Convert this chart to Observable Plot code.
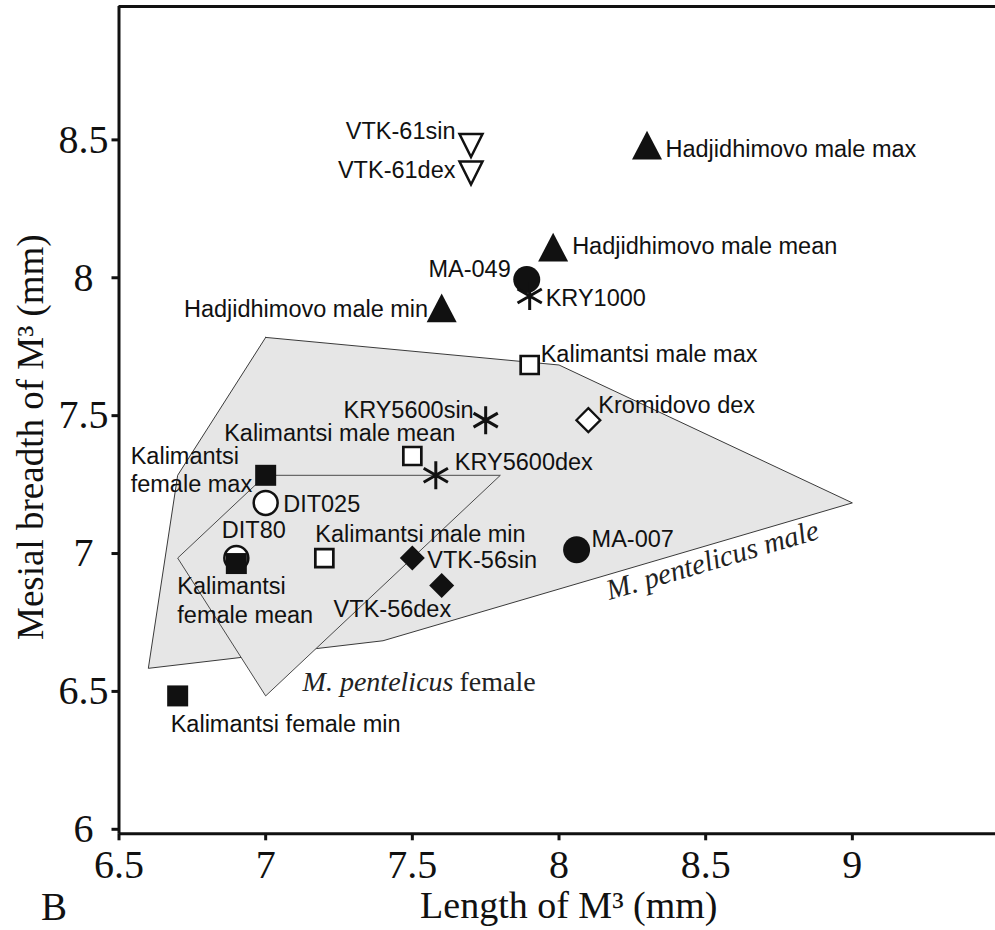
<!DOCTYPE html>
<html><head><meta charset="utf-8">
<script src="https://cdn.jsdelivr.net/npm/d3@7"></script>
<script src="https://cdn.jsdelivr.net/npm/@observablehq/plot@0.6"></script>
<style>html,body{margin:0;background:#fff;overflow:hidden}svg{display:block}</style>
</head><body><div id="chart"></div>
<script>
// ---------- data ----------
const specimens = [
  "VTK-61sin", "VTK-61dex",
  "Hadjidhimovo male max", "Hadjidhimovo male mean", "Hadjidhimovo male min",
  "MA-049", "KRY1000", "Kalimantsi male max", "Kromidovo dex", "KRY5600sin",
  "Kalimantsi male mean", "KRY5600dex", "Kalimantsi\nfemale max", "DIT025", "DIT80",
  "Kalimantsi\nfemale mean", "Kalimantsi male min", "VTK-56sin", "VTK-56dex", "MA-007",
  "Kalimantsi female min"
];
const lengthM3 = [7.70, 7.70, 8.30, 7.98, 7.60, 7.89, 7.90, 7.90, 8.10, 7.75,
                  7.50, 7.58, 7.00, 7.00, 6.90, 6.90, 7.20, 7.50, 7.60, 8.06, 6.70];
const breadthM3 = [8.51, 8.41, 8.48, 8.11, 7.89, 8.01, 7.95, 7.70, 7.50, 7.50,
                   7.37, 7.30, 7.30, 7.20, 7.00, 6.98, 7.00, 7.00, 6.90, 7.03, 6.50];
const markerKind = ["openTriangleDown", "openTriangleDown",
  "filledTriangle", "filledTriangle", "filledTriangle",
  "filledCircle", "asterisk", "openSquare", "openDiamond", "asterisk",
  "openSquare", "asterisk", "filledSquare", "openCircle", "openCircle",
  "filledSquare", "openSquare", "filledDiamond", "filledDiamond", "filledCircle",
  "filledSquare"];

const maleHullLength = [7.0, 8.0, 9.0, 7.4, 6.6, 6.7];
const maleHullBreadth = [7.8, 7.7, 7.2, 6.7, 6.6, 7.3];
const femaleHullLength = [7.0, 7.8, 7.0, 6.7];
const femaleHullBreadth = [7.3, 7.3, 6.5, 7.0];

const hullLabelText = ["M. pentelicus male", "M. pentelicus", "female"];
const hullLabelLength = [8.523, 7.647, 7.647];
const hullLabelBreadth = [6.992, 6.552, 6.552];

const xTicks = [6.5, 7, 7.5, 8, 8.5, 9];
const yTicks = [6, 6.5, 7, 7.5, 8, 8.5];
const xTitle = "Length of M³ (mm)";
const yTitle = "Mesial breadth of M³ (mm)";
const panelLetter = "B";

// ---------- layout / style ----------
const ink = "#111";
const serif = "'Liberation Serif', 'Times New Roman', serif";
const sans = "'Liberation Sans', Arial, sans-serif";
const hullFill = "#e6e6e6";

// label placement: [textAnchor, dx, dy]
const labelLayout = {
  "VTK-61sin": ["end", -15.5, -11.5],
  "VTK-61dex": ["end", -15.5, 0],
  "Hadjidhimovo male max": ["start", 18.5, -2],
  "Hadjidhimovo male mean": ["start", 19, -7],
  "Hadjidhimovo male min": ["end", -13.5, -5],
  "MA-049": ["end", -16, -12],
  "KRY1000": ["start", 16, 1],
  "Kalimantsi male max": ["start", 11, -12.5],
  "Kromidovo dex": ["start", 10, -16],
  "KRY5600sin": ["end", -12, -11.5],
  "Kalimantsi male mean": ["end", 43, -24.5],
  "KRY5600dex": ["start", 19, -14.5],
  "Kalimantsi\nfemale max": ["start", -135, -6.5],
  "DIT025": ["start", 17.5, 0],
  "DIT80": ["middle", 17.5, -29],
  "Kalimantsi\nfemale mean": ["start", -59, 36],
  "Kalimantsi male min": ["start", -9, -25.5],
  "VTK-56sin": ["start", 15, 1],
  "VTK-56dex": ["end", 9.5, 22],
  "MA-007": ["start", 15, -12],
  "Kalimantsi female min": ["start", -7, 26.5]
};

// custom symbols (r = half-width in px, derived from Plot's size = PI r^2)
const rad = size => Math.sqrt(size / Math.PI);
const symSquare = {draw(c, s) { const r = rad(s); c.rect(-r, -r, 2 * r, 2 * r); }};
const symCircle = {draw(c, s) { const r = rad(s); c.moveTo(r, 0); c.arc(0, 0, r, 0, 2 * Math.PI); }};
const symTriUp = {draw(c, s) { const r = rad(s), h = 2 * r * 0.96;
  c.moveTo(0, -2 * h / 3); c.lineTo(r, h / 3); c.lineTo(-r, h / 3); c.closePath(); }};
const symTriDown = {draw(c, s) { const r = rad(s), h = 2 * r;
  c.moveTo(0, 2 * h / 3); c.lineTo(r, -h / 3); c.lineTo(-r, -h / 3); c.closePath(); }};
const symDiamond = {draw(c, s) { const r = rad(s);
  c.moveTo(0, -r); c.lineTo(r, 0); c.lineTo(0, r); c.lineTo(-r, 0); c.closePath(); }};
const symAsterisk = {draw(c, s) { const r = rad(s);
  c.moveTo(0, -r); c.lineTo(0, r);
  const a = Math.cos(Math.PI / 6) * r, b = Math.sin(Math.PI / 6) * r;
  c.moveTo(-a, -b); c.lineTo(a, b); c.moveTo(-a, b); c.lineTo(a, -b); }};

const markerStyle = {
  openCircle:       {symbol: symCircle,   r: 12,   fill: "white", stroke: ink, strokeWidth: 2.5},
  filledSquare:     {symbol: symSquare,   r: 10.5, fill: ink, stroke: "none"},
  openSquare:       {symbol: symSquare,   r: 9,    fill: "white", stroke: ink, strokeWidth: 2.7},
  filledTriangle:   {symbol: symTriUp,    r: 15,   fill: ink, stroke: "none"},
  openTriangleDown: {symbol: symTriDown,  r: 11.5, fill: "white", stroke: ink, strokeWidth: 2.5},
  filledCircle:     {symbol: symCircle,   r: 13.5, fill: ink, stroke: "none"},
  asterisk:         {symbol: symAsterisk, r: 14,   fill: "none", stroke: ink, strokeWidth: 3},
  filledDiamond:    {symbol: symDiamond,  r: 12.5, fill: ink, stroke: "none"},
  openDiamond:      {symbol: symDiamond,  r: 12,   fill: "white", stroke: ink, strokeWidth: 2.2}
};

const idx = d3.range(specimens.length);
const closeRing = n => [...d3.range(n), 0];

const pointMarks = Object.keys(markerStyle).map(kind =>
  Plot.dot(idx.filter(i => markerKind[i] === kind), {
    x: i => lengthM3[i], y: i => breadthM3[i], ...markerStyle[kind]
  })
);

const labelMarks = idx.map(i => {
  const [anchor, dx, dy] = labelLayout[specimens[i]];
  return Plot.text([i], {
    x: i => lengthM3[i], y: i => breadthM3[i], text: i => specimens[i],
    textAnchor: anchor, dx, dy, lineHeight: 1.21,
    fontSize: 23.5, fontFamily: sans, fill: ink
  });
});

const chart = Plot.plot({
  width: 995, height: 930,
  marginLeft: 118.5, marginRight: 0, marginTop: 6, marginBottom: 96.7,
  x: {domain: [6.5, 9.488]},
  y: {domain: [6, 9]},
  style: {background: "white", color: ink},
  marks: [
    // hulls
    Plot.line(closeRing(maleHullLength.length), {
      x: i => maleHullLength[i], y: i => maleHullBreadth[i],
      fill: hullFill, stroke: "#3a3a3a", strokeWidth: 1, curve: "linear-closed"
    }),
    Plot.line(closeRing(femaleHullLength.length), {
      x: i => femaleHullLength[i], y: i => femaleHullBreadth[i],
      fill: hullFill, stroke: "#4a4a4a", strokeWidth: 1, curve: "linear-closed"
    }),
    // hull labels
    Plot.text([0], {x: i => hullLabelLength[i], y: i => hullLabelBreadth[i], text: i => hullLabelText[i],
      rotate: -16.3, fontSize: 29, fontStyle: "italic", fontFamily: serif, fill: "#222"}),
    Plot.text([1], {x: i => hullLabelLength[i], y: i => hullLabelBreadth[i], text: i => hullLabelText[i],
      textAnchor: "end", dx: -2, fontSize: 28, fontStyle: "italic", fontFamily: serif, fill: "#222"}),
    Plot.text([2], {x: i => hullLabelLength[i], y: i => hullLabelBreadth[i], text: i => hullLabelText[i],
      textAnchor: "start", dx: 4, fontSize: 28, fontFamily: serif, fill: "#222"}),
    // points and labels
    ...pointMarks,
    ...labelMarks,
    // axes and frame
    Plot.ruleY([9], {stroke: ink, strokeWidth: 3}),
    Plot.ruleY([6], {stroke: ink, strokeWidth: 3}),
    Plot.ruleX([6.5], {stroke: ink, strokeWidth: 3}),
    Plot.axisX({ticks: xTicks, tickFormat: d => String(d), tickSize: 7, tickPadding: 8.6,
      strokeWidth: 3, stroke: ink, fill: ink, fontSize: 40, fontFamily: serif, label: null}),
    Plot.axisY({ticks: yTicks, tickFormat: d => String(d), tickSize: 7, tickPadding: 28.5,
      textAnchor: "middle", dy: -4.5,
      strokeWidth: 3, stroke: ink, fill: ink, fontSize: 40, fontFamily: serif, label: null}),
    // titles
    Plot.text([yTitle], {text: d => d, frameAnchor: "left", textAnchor: "middle", lineAnchor: "middle",
      rotate: -90, dx: -87.5, dy: 17, fontSize: 37, fontFamily: serif, fill: ink}),
    Plot.text([xTitle], {text: d => d, frameAnchor: "bottom", textAnchor: "middle", lineAnchor: "middle",
      dx: 11.5, dy: 72.5, fontSize: 38, fontFamily: serif, fill: ink}),
    Plot.text([panelLetter], {text: d => d, frameAnchor: "bottom-left", textAnchor: "middle", lineAnchor: "middle",
      dx: -65, dy: 74, fontSize: 39, fontFamily: serif, fill: ink})
  ]
});
document.getElementById("chart").appendChild(chart);
</script>
</body></html>
